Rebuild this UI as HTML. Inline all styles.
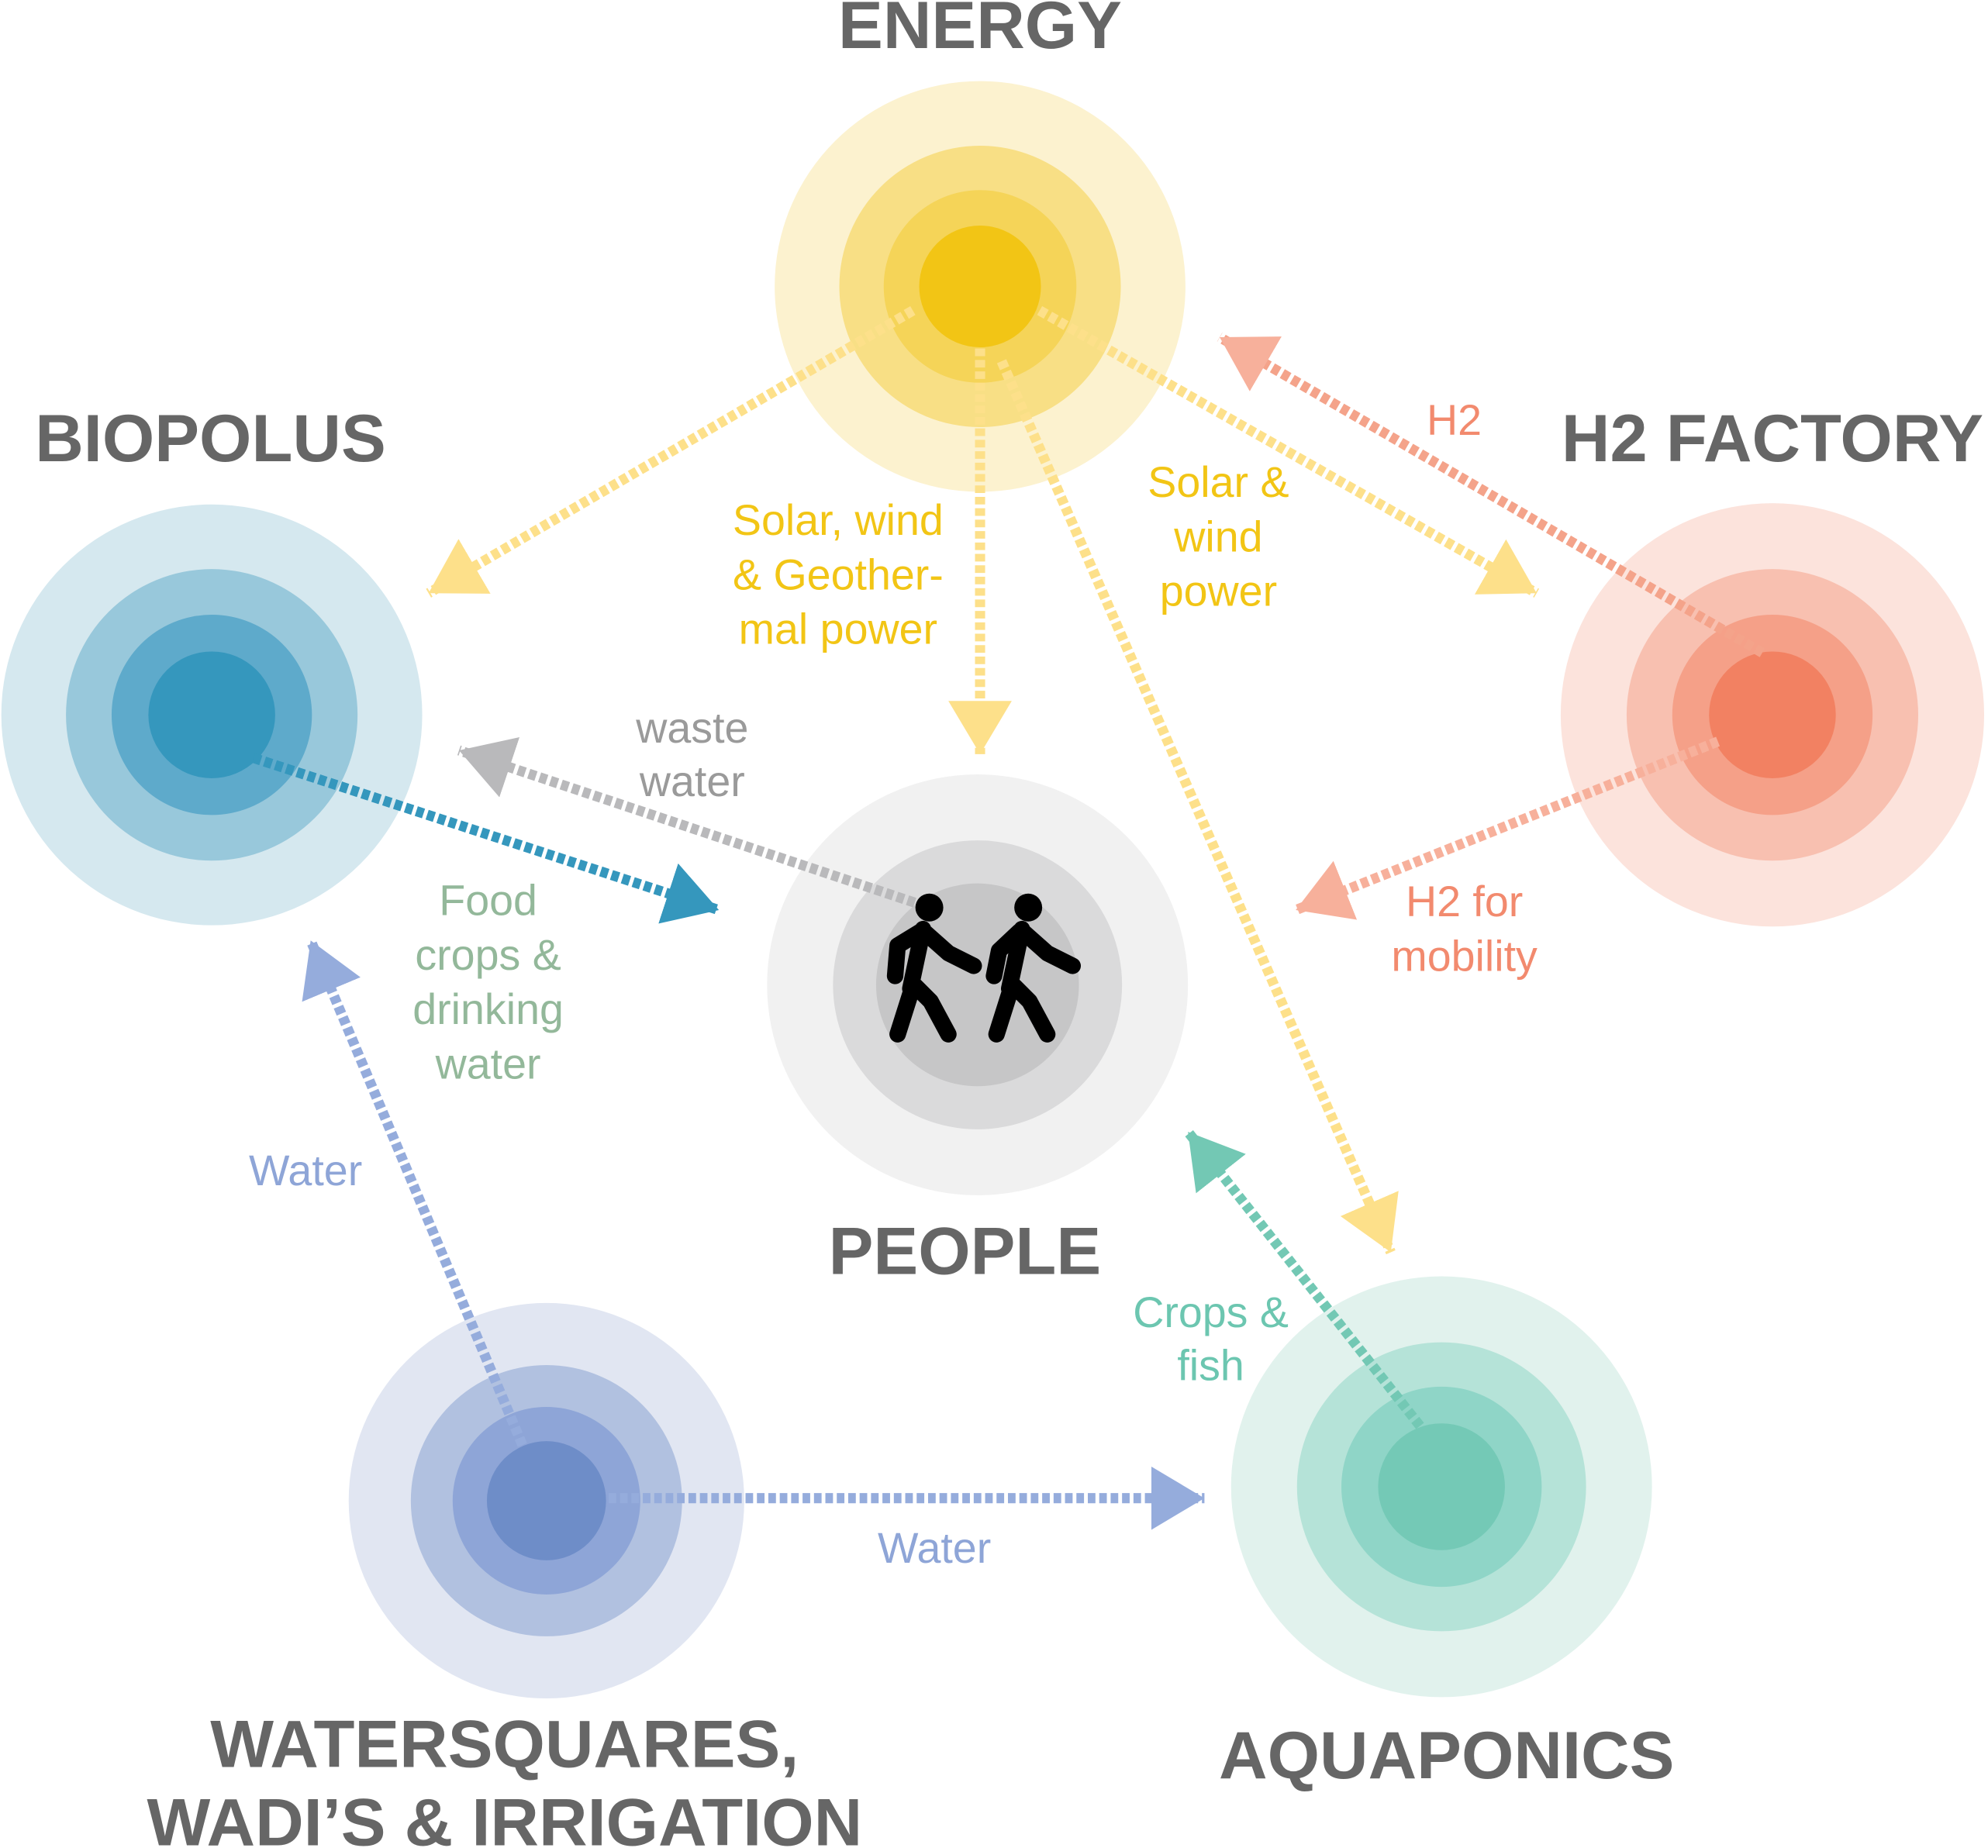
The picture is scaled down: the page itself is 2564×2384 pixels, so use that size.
<!DOCTYPE html>
<html><head><meta charset="utf-8"><style>
html,body{margin:0;padding:0;background:#fff;}
svg{display:block;}
text{font-family:"Liberation Sans",sans-serif;}
.b{font-weight:bold;font-size:53px;fill:#666;text-anchor:middle;}
.t{font-size:34px;text-anchor:middle;}
</style></head><body>
<svg width="2564" height="2384" viewBox="0 0 1568 1458" xmlns="http://www.w3.org/2000/svg">
<defs>
<marker id="my" markerUnits="userSpaceOnUse" markerWidth="60" markerHeight="60" refX="42" refY="25" orient="auto"><path d="M0,0 L42,25 L0,50 z" fill="#fde08a"/></marker>
<marker id="ms" markerUnits="userSpaceOnUse" markerWidth="60" markerHeight="60" refX="42" refY="25" orient="auto"><path d="M0,0 L42,25 L0,50 z" fill="#f7b09b"/></marker>
<marker id="mb" markerUnits="userSpaceOnUse" markerWidth="60" markerHeight="60" refX="42" refY="25" orient="auto"><path d="M0,0 L42,25 L0,50 z" fill="#3597bd"/></marker>
<marker id="mg" markerUnits="userSpaceOnUse" markerWidth="60" markerHeight="60" refX="42" refY="25" orient="auto"><path d="M0,0 L42,25 L0,50 z" fill="#b9b9bb"/></marker>
<marker id="mw" markerUnits="userSpaceOnUse" markerWidth="60" markerHeight="60" refX="42" refY="25" orient="auto"><path d="M0,0 L42,25 L0,50 z" fill="#95acdc"/></marker>
<marker id="mt" markerUnits="userSpaceOnUse" markerWidth="60" markerHeight="60" refX="42" refY="25" orient="auto"><path d="M0,0 L42,25 L0,50 z" fill="#73c8b4"/></marker>
</defs>
<g>
<circle cx="773" cy="226" r="162" fill="#fcf2cf"/><circle cx="773" cy="226" r="111" fill="#f8df85"/><circle cx="773" cy="226" r="76" fill="#f5d458"/><circle cx="773" cy="226" r="48" fill="#f2c515"/>
<circle cx="167" cy="564" r="166" fill="#d5e8ef"/><circle cx="167" cy="564" r="115" fill="#98c8db"/><circle cx="167" cy="564" r="79" fill="#5eaacb"/><circle cx="167" cy="564" r="50" fill="#3597bd"/>
<circle cx="1398" cy="564" r="167" fill="#fce3dc"/><circle cx="1398" cy="564" r="115" fill="#f8c0b0"/><circle cx="1398" cy="564" r="79" fill="#f5a088"/><circle cx="1398" cy="564" r="50" fill="#f28162"/>
<circle cx="771" cy="777" r="166" fill="#f1f1f1"/><circle cx="771" cy="777" r="114" fill="#dadadb"/><circle cx="771" cy="777" r="80" fill="#c6c6c7"/>
<circle cx="431" cy="1184" r="156" fill="#e1e6f2"/><circle cx="431" cy="1184" r="107" fill="#b1c1e0"/><circle cx="431" cy="1184" r="74" fill="#8ea5d7"/><circle cx="431" cy="1184" r="47" fill="#6e8dc8"/>
<circle cx="1137" cy="1173" r="166" fill="#e1f2ed"/><circle cx="1137" cy="1173" r="114" fill="#b5e3d8"/><circle cx="1137" cy="1173" r="79" fill="#8fd5c7"/><circle cx="1137" cy="1173" r="50" fill="#74c9b6"/>
</g>
<g fill="none" stroke-width="8" stroke-dasharray="6 3">
<line x1="720" y1="245" x2="338" y2="468" stroke="#fde08a" marker-end="url(#my)"/>
<line x1="773" y1="275" x2="773" y2="595" stroke="#fde08a" marker-end="url(#my)"/>
<line x1="820" y1="245" x2="1212" y2="468" stroke="#fde08a" marker-end="url(#my)"/>
<line x1="790" y1="285" x2="1097" y2="988" stroke="#fde08a" marker-end="url(#my)"/>
<line x1="1390" y1="515" x2="962" y2="266" stroke="#f4a38a" marker-end="url(#ms)"/>
<line x1="1355" y1="585" x2="1022" y2="718" stroke="#f7b09b" marker-end="url(#ms)"/>
<line x1="200" y1="598" x2="567" y2="718" stroke="#3597bd" marker-end="url(#mb)"/>
<line x1="730" y1="715" x2="362" y2="592" stroke="#b9b9bb" marker-end="url(#mg)"/>
<line x1="412" y1="1140" x2="245" y2="742" stroke="#95acdc" marker-end="url(#mw)"/>
<line x1="480" y1="1182" x2="950" y2="1182" stroke="#95acdc" marker-end="url(#mw)"/>
<line x1="1120" y1="1125" x2="937" y2="893" stroke="#73c8b4" marker-end="url(#mt)"/>
</g>
<g fill="#000" stroke="#000" stroke-linecap="round" stroke-linejoin="round">
<circle cx="733" cy="716" r="11" stroke="none"/>
<path d="M728,733 L718,780 M726,735 L708,746 L706,770 M730,736 L748,752 L768,762 M720,778 L708,816 M722,778 L734,790 L748,816" stroke-width="13" fill="none"/>
<circle cx="811" cy="716" r="11" stroke="none"/>
<path d="M806,733 L796,780 M804,735 L788,750 L784,770 M808,736 L826,752 L846,762 M798,778 L786,816 M800,778 L812,790 L826,816" stroke-width="13" fill="none"/>
</g>
<text class="b" x="773" y="38">ENERGY</text>
<text class="b" x="166" y="364">BIOPOLUS</text>
<text class="b" x="1398" y="364">H2 FACTORY</text>
<text class="b" x="761" y="1005">PEOPLE</text>
<text class="b" x="398" y="1394">WATERSQUARES,</text>
<text class="b" x="398" y="1456">WADI’S &amp; IRRIGATION</text>
<text class="b" x="1141" y="1403">AQUAPONICS</text>
<text class="t" x="661" y="422" fill="#f2c515">Solar, wind</text>
<text class="t" x="661" y="465" fill="#f2c515">&amp; Geother-</text>
<text class="t" x="661" y="508" fill="#f2c515">mal power</text>
<text class="t" x="961" y="392" fill="#f2c515">Solar &amp;</text>
<text class="t" x="961" y="435" fill="#f2c515">wind</text>
<text class="t" x="961" y="478" fill="#f2c515">power</text>
<text class="t" x="1147" y="343" fill="#f28a6e">H2</text>
<text class="t" x="1155" y="723" fill="#f28a6e">H2 for</text>
<text class="t" x="1155" y="766" fill="#f28a6e">mobility</text>
<text class="t" x="546" y="586" fill="#9a9a9a">waste</text>
<text class="t" x="546" y="628" fill="#9a9a9a">water</text>
<text class="t" x="385" y="722" fill="#93b89a">Food</text>
<text class="t" x="385" y="765" fill="#93b89a">crops &amp;</text>
<text class="t" x="385" y="808" fill="#93b89a">drinking</text>
<text class="t" x="385" y="851" fill="#93b89a">water</text>
<text class="t" x="241" y="935" fill="#8ea5d7">Water</text>
<text class="t" x="737" y="1233" fill="#8ea5d7">Water</text>
<text class="t" x="955" y="1047" fill="#6cc6b0">Crops &amp;</text>
<text class="t" x="955" y="1089" fill="#6cc6b0">fish</text>
</svg>
</body></html>
